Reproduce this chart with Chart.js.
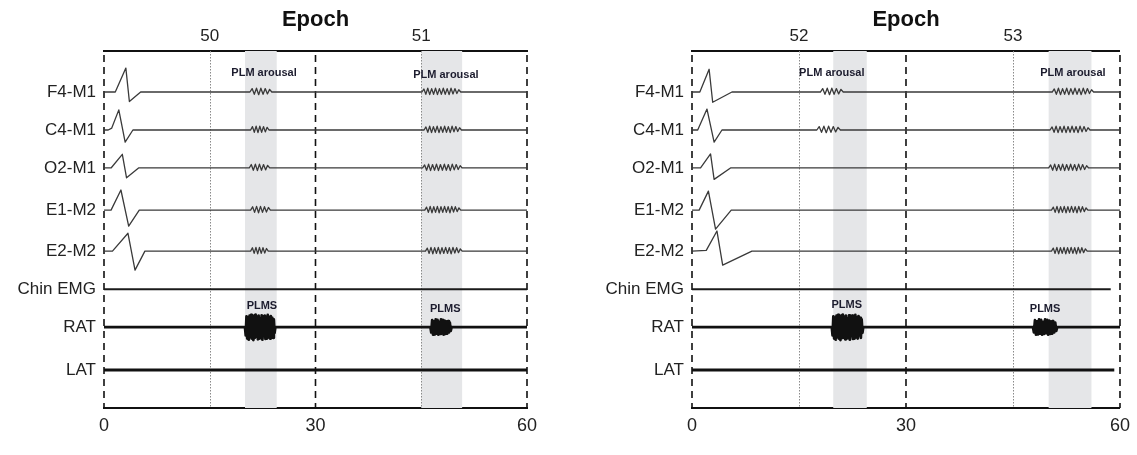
<!DOCTYPE html>
<html>
<head>
<meta charset="utf-8">
<script src="https://cdn.jsdelivr.net/npm/chart.js@4.4.1/dist/chart.umd.min.js"></script>
<style>
  body { margin: 0; background: #fff; }
  .panel { position: absolute; top: 0; height: 455px; }
  #leftBox { left: 0; width: 560px; }
  #rightBox { left: 570px; width: 567px; }
</style>
</head>
<body>
<div class="panel" id="leftBox"><canvas id="leftChart"></canvas></div>
<div class="panel" id="rightBox"><canvas id="rightChart"></canvas></div>
<script>
// channel rows, top to bottom, and the level each baseline sits at
var channels = ['F4-M1', 'C4-M1', 'O2-M1', 'E1-M2', 'E2-M2', 'Chin EMG', 'RAT', 'LAT'];
var rowLevels = [8.32, 7.32, 6.32, 5.21, 4.13, 3.13, 2.13, 1.0];

var timeTicks = [0, 30, 60];
var epochTicks = [15, 45];
var leftEpochs = ['50', '51'];
var rightEpochs = ['52', '53'];

// sampled bursts (row units)
var arousalShort = [0, 0.09, -0.06, 0.1, -0.07, 0.1, -0.06, 0.09, -0.05, 0.07, 0];
var arousalLong = [0, 0.08, -0.06, 0.1, -0.07, 0.09, -0.06, 0.1, -0.07, 0.09, -0.06, 0.1, -0.06, 0.09, -0.07, 0.1, -0.05, 0.09, -0.04, 0.06, 0];
var plmsBig = [0, -0.22, 0.28, -0.3, 0.24, -0.33, 0.3, -0.26, 0.32, -0.3, 0.2, -0.34, 0.3, -0.28, 0.33, -0.25, 0.27, -0.32, 0.3, -0.3, 0.22,
  -0.29, 0.31, -0.33, 0.28, -0.24, 0.3, -0.31, 0.26, -0.3, 0.32, -0.27, 0.25, -0.3, 0.29, -0.22, 0.24, -0.28, 0.2, -0.15, 0];
var plmsSmall = [0, -0.14, 0.18, -0.2, 0.15, -0.19, 0.2, -0.17, 0.19, -0.2, 0.14, -0.18, 0.2, -0.16, 0.19, -0.2, 0.17, -0.18, 0.15,
  -0.17, 0.16, -0.14, 0.12, -0.1, 0];

// slow deflection at the start of each EEG/EOG trace: [seconds, amplitude]
var leftSpikes = [
  [[0, 0], [1.6, 0], [3.1, 0.63], [3.6, -0.25], [5.2, 0]],
  [[0, 0], [0.6, 0], [1.1, 0.05], [2.1, 0.53], [3.0, -0.32], [4.1, 0]],
  [[0, 0], [1.0, 0], [2.6, 0.36], [3.2, -0.26], [4.9, 0]],
  [[0, 0], [1.0, 0], [2.4, 0.53], [3.5, -0.42], [5.0, 0]],
  [[0, 0], [1.2, 0], [3.4, 0.47], [4.4, -0.5], [5.8, 0]]
];
var rightSpikes = [
  [[0, 0], [1.1, 0], [2.4, 0.6], [2.9, -0.27], [5.6, 0]],
  [[0, 0], [0.8, 0], [2.1, 0.55], [3.1, -0.32], [4.2, 0]],
  [[0, 0], [1.2, 0], [2.6, 0.37], [3.1, -0.3], [5.4, 0]],
  [[0, 0], [1.0, 0], [2.3, 0.5], [3.3, -0.5], [5.5, 0]],
  [[0, 0], [2.0, 0.02], [3.5, 0.53], [4.3, -0.37], [8.4, 0]]
];

// arousal windows per channel: [start, end, burst]
var leftArousals = [
  [[20.7, 23.8, 'short'], [45.1, 50.6, 'long']],
  [[20.8, 23.4, 'short'], [45.4, 50.7, 'long']],
  [[20.6, 23.5, 'short'], [45.2, 50.8, 'long']],
  [[20.8, 23.6, 'short'], [45.5, 50.6, 'long']],
  [[20.8, 23.3, 'short'], [45.6, 50.8, 'long']]
];
var rightArousals = [
  [[18.0, 21.2, 'short'], [50.5, 56.3, 'long']],
  [[17.5, 20.8, 'short'], [50.2, 55.8, 'long']],
  [[50.0, 55.6, 'long']],
  [[50.4, 55.5, 'long']],
  [[50.4, 55.4, 'long']]
];
var leftLegBursts = [[20.0, 24.3, 'big'], [46.3, 49.3, 'small']];
var rightLegBursts = [[19.6, 24.0, 'big'], [47.8, 51.2, 'small']];

// trace end times for Chin EMG, RAT, LAT
var leftEnds = [60, 60, 60];
var rightEnds = [58.7, 60, 59.2];

// grey scored periods
var leftShades = [[20.0, 24.5], [45.0, 50.8]];
var rightShades = [[19.8, 24.5], [50.0, 56.0]];

var leftNotes = [[22.7, 8.82, 'PLM arousal'], [48.5, 8.78, 'PLM arousal'], [22.4, 2.69, 'PLMS'], [48.4, 2.61, 'PLMS']];
var rightNotes = [[19.6, 8.82, 'PLM arousal'], [53.4, 8.82, 'PLM arousal'], [21.7, 2.72, 'PLMS'], [49.5, 2.61, 'PLMS']];

var bursts = { short: arousalShort, long: arousalLong, big: plmsBig, small: plmsSmall };

function buildTrace(level, knots, windows, end) {
    var pts = knots.map(k => ({ x: k[0], y: level + k[1] }));
    windows.forEach(w => {
        var vals = bursts[w[2]];
        var step = (w[1] - w[0]) / (vals.length - 1);
        vals.forEach((v, i) => pts.push({ x: w[0] + i * step, y: level + v }));
    });
    pts.push({ x: end, y: level });
    return pts;
}

var shadePlugin = {
    id: 'shades',
    beforeDatasetsDraw(chart, args, opts) {
        var ctx = chart.ctx, xs = chart.scales.x, area = chart.chartArea;
        ctx.save();
        ctx.fillStyle = '#e5e6e8';
        opts.bands.forEach(b => {
            var x0 = xs.getPixelForValue(b[0]), x1 = xs.getPixelForValue(b[1]);
            ctx.fillRect(x0, area.top, x1 - x0, area.bottom - area.top);
        });
        // dotted epoch boundaries
        ctx.strokeStyle = '#8a8a8a';
        ctx.lineWidth = 1;
        ctx.setLineDash([1.5, 1.5]);
        epochTicks.forEach(t => {
            var x = Math.round(xs.getPixelForValue(t)) + 0.5;
            ctx.beginPath(); ctx.moveTo(x, area.top); ctx.lineTo(x, area.bottom); ctx.stroke();
        });
        // dashed 30 s marks
        ctx.strokeStyle = '#111';
        ctx.lineWidth = 1.6;
        ctx.setLineDash([7, 5]);
        timeTicks.forEach(t => {
            var x = xs.getPixelForValue(t);
            ctx.beginPath(); ctx.moveTo(x, area.top + 4); ctx.lineTo(x, area.bottom); ctx.stroke();
        });
        ctx.restore();
    },
    afterDatasetsDraw(chart, args, opts) {
        var ctx = chart.ctx, xs = chart.scales.x, ys = chart.scales.y;
        ctx.save();
        ctx.font = 'bold 11px "Liberation Sans", Arial, sans-serif';
        ctx.fillStyle = '#1c1c2e';
        ctx.textAlign = 'center';
        ctx.textBaseline = 'middle';
        opts.notes.forEach(n => ctx.fillText(n[2], xs.getPixelForValue(n[0]), ys.getPixelForValue(n[1])));
        ctx.restore();
    }
};

function makePanel(canvasId, spikes, arousals, legBursts, ends, shades, notes, epochs, axisWidth, padRight) {
    var datasets = [];
    for (var i = 0; i < 5; i++) {
        datasets.push({
            data: buildTrace(rowLevels[i], spikes[i], arousals[i], 60),
            borderColor: '#3a3a3a', borderWidth: 1.3
        });
    }
    datasets.push({ data: buildTrace(rowLevels[5], [[0, 0]], [], ends[0]), borderColor: '#1a1a1a', borderWidth: 2 });
    datasets.push({ data: buildTrace(rowLevels[6], [[0, 0]], legBursts, ends[1]), borderColor: '#111', borderWidth: 2.8 });
    datasets.push({ data: buildTrace(rowLevels[7], [[0, 0]], [], ends[2]), borderColor: '#111', borderWidth: 3 });
    datasets.forEach(d => { d.showLine = true; d.pointRadius = 0; d.tension = 0; d.borderJoinStyle = 'round'; });

    var ctx = document.getElementById(canvasId).getContext('2d');
    return new Chart(ctx, {
        type: 'scatter',
        data: { datasets: datasets },
        options: {
            responsive: true,
            maintainAspectRatio: false,
            animation: false,
            devicePixelRatio: 1,
            layout: { padding: { left: 0, right: padRight, top: 0, bottom: 0 } },
            plugins: {
                legend: { display: false },
                tooltip: { enabled: false },
                shades: { bands: shades, notes: notes }
            },
            scales: {
                x: {
                    type: 'linear', position: 'bottom', min: 0, max: 60,
                    grid: { display: false, drawTicks: false },
                    border: { display: true, color: '#111', width: 2 },
                    afterBuildTicks: s => { s.ticks = timeTicks.map(v => ({ value: v })); },
                    afterFit: s => { s.height = 47; },
                    ticks: { color: '#222', padding: 7, maxRotation: 0, font: { family: '"Liberation Sans", Arial', size: 18 } }
                },
                x2: {
                    type: 'linear', position: 'top', min: 0, max: 60,
                    grid: { display: false, drawTicks: false },
                    border: { display: true, color: '#111', width: 2 },
                    afterBuildTicks: s => { s.ticks = epochTicks.map(v => ({ value: v })); },
                    afterFit: s => { s.height = 51; },
                    ticks: {
                        color: '#222', padding: 4, maxRotation: 0,
                        font: { family: '"Liberation Sans", Arial', size: 17 },
                        callback: (v, i) => epochs[i]
                    },
                    title: {
                        display: true, text: 'Epoch', color: '#111', padding: { top: 7, bottom: 0 },
                        font: { family: '"Liberation Sans", Arial', size: 22, weight: 'bold' }
                    }
                },
                y: {
                    type: 'linear', min: 0, max: 9.4,
                    grid: { display: false, drawTicks: false },
                    border: { display: false },
                    afterBuildTicks: s => { s.ticks = rowLevels.map(v => ({ value: v })); },
                    afterFit: s => { s.width = axisWidth; },
                    ticks: {
                        color: '#222', padding: 8,
                        font: { family: '"Liberation Sans", Arial', size: 17 },
                        callback: (v, i) => channels[i]
                    }
                }
            }
        },
        plugins: [shadePlugin]
    });
}

makePanel('leftChart', leftSpikes, leftArousals, leftLegBursts, leftEnds, leftShades, leftNotes, leftEpochs, 104, 33);
makePanel('rightChart', rightSpikes, rightArousals, rightLegBursts, rightEnds, rightShades, rightNotes, rightEpochs, 122, 17);
</script>
</body>
</html>
